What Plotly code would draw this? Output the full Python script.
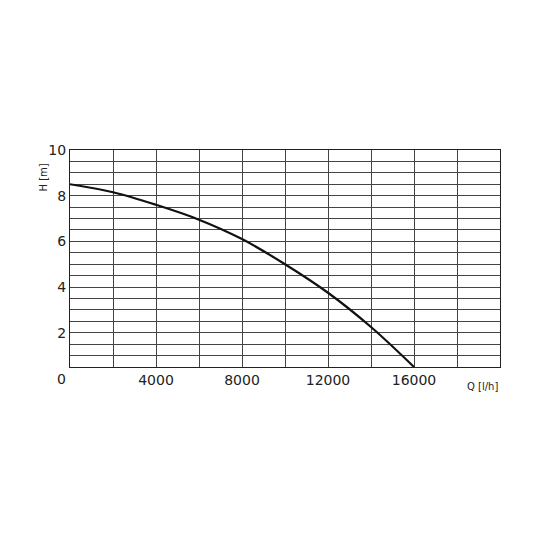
import plotly.graph_objects as go

flow = [0, 2000, 4000, 6000, 8000, 10000, 12000, 14000, 16000]
head = [8.5, 8.15, 7.6, 6.95, 6.1, 5.0, 3.75, 2.25, 0.5]
x_ticks = [4000, 8000, 12000, 16000]
x_labels = ["4000", "8000", "12000", "16000"]
y_ticks = [2, 4, 6, 8, 10]

font = dict(family="DejaVu Sans", size=14, color="#222")
fig = go.Figure(go.Scatter(x=flow, y=head, mode="lines", line=dict(color="#111", width=2.2, shape="spline"),
                           hoverinfo="skip"))
grid = dict(showgrid=True, gridcolor="#444", gridwidth=0.8, showline=True, linecolor="#222", linewidth=1.2,
            mirror=True, zeroline=False, ticks="", tickfont=font)
fig.update_xaxes(range=[0, 20000], tickvals=x_ticks, ticktext=x_labels, **grid)
fig.update_yaxes(range=[0.5, 10], tickvals=y_ticks, ticktext=[str(v) for v in y_ticks], **grid)
fig.update_xaxes(minor=dict(dtick=2000, tick0=0, showgrid=True, gridcolor="#444", gridwidth=0.8))
fig.update_yaxes(minor=dict(dtick=0.5, tick0=0, showgrid=True, gridcolor="#444", gridwidth=0.8))
fig.update_layout(width=550, height=550, margin=dict(l=62, r=58, t=142, b=191),
                  paper_bgcolor="white", plot_bgcolor="white", showlegend=False,
                  annotations=[
                      dict(text="0", x=0, y=0, xref="paper", yref="paper", xanchor="right", yanchor="top",
                           xshift=-2, yshift=-2, showarrow=False, font=font),
                      dict(text="H [m]", x=0, y=1, xref="paper", yref="paper", textangle=-90, xshift=-35, yshift=-12,
                           showarrow=False, font=dict(family="DejaVu Sans", size=10, color="#222")),
                      dict(text="Q [l/h]", x=1, y=0, xref="paper", yref="paper", xanchor="right", yanchor="top",
                           yshift=-12, showarrow=False, font=dict(family="DejaVu Sans", size=10, color="#222")),
                  ])
fig.write_html("out.html")
